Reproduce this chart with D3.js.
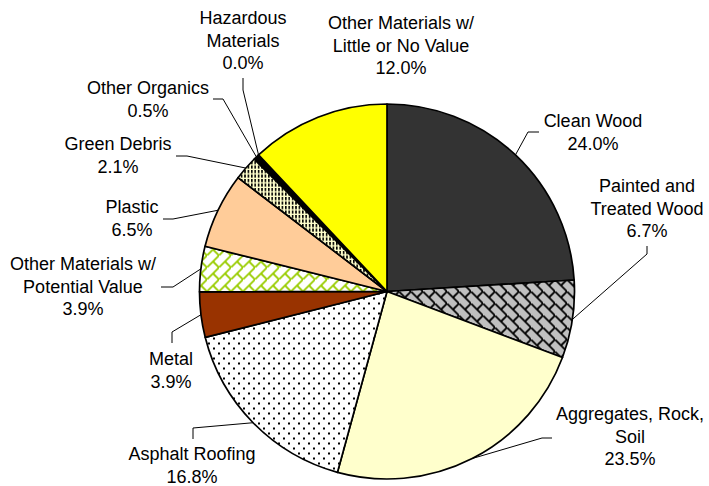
<!DOCTYPE html>
<html>
<head>
<meta charset="utf-8">
<script src="https://cdn.jsdelivr.net/npm/d3@7"></script>
<style>
  body { margin: 0; background: #fff; }
</style>
</head>
<body>
<script>
// slices, clockwise from 12 o'clock
const categories = ["Clean Wood", "Painted and|Treated Wood", "Aggregates, Rock,|Soil", "Asphalt Roofing",
    "Metal", "Other Materials w/|Potential Value", "Plastic", "Green Debris", "Other Organics",
    "Hazardous|Materials", "Other Materials w/|Little or No Value"];
const shares = [24.0, 6.7, 23.5, 16.8, 3.9, 3.9, 6.5, 2.1, 0.5, 0.0, 12.0];
const fills = ["#333333", "url(#brickGrey)", "#ffffcc", "url(#dots)", "#993300", "url(#brickGreen)",
    "#ffcc99", "url(#vdash)", "#000000", "#ffffff", "#ffff00"];

// label placement: text centre x, first baseline y
const labelAt = [[593, 127], [647, 192], [630, 420], [192, 460], [171, 365], [83, 270],
    [132, 213], [118, 150], [148, 94], [243, 24], [401, 29]];
// leader elbow and end (null = no leader)
const leaderTo = [[[528, 132], [539, 132]], [[647, 254], [647, 246]], [[542, 438], [552, 438]],
    [[193, 428], [193, 439]], [[172, 332], [172, 343]], [[173, 287], [161, 287]],
    [[173, 219], [163, 219]], [[187, 156], [176, 156]], [[223, 99], [213, 99]],
    [[243, 90], [243, 78]], null];

function main(){
    const canvasWidth = 709;
    const canvasHeight = 486;
    const radius = 187.5;
    const cx = 387, cy = 291.5;

    const svg = d3.select("body").append("svg")
        .attr("width", canvasWidth)
        .attr("height", canvasHeight);

    const defs = svg.append("defs");

    // diagonal brick, grey with black
    const pg = defs.append("pattern").attr("id", "brickGrey")
        .attr("patternUnits", "userSpaceOnUse").attr("width", 12).attr("height", 12);
    pg.append("rect").attr("width", 12).attr("height", 12).attr("fill", "#c0c0c0");
    pg.append("path").attr("d", "M-1,-1L13,13M6,6L12,0").attr("stroke", "#000").attr("stroke-width", 1.8);

    // diagonal brick, white with green
    const pgr = defs.append("pattern").attr("id", "brickGreen")
        .attr("patternUnits", "userSpaceOnUse").attr("width", 12).attr("height", 12);
    pgr.append("rect").attr("width", 12).attr("height", 12).attr("fill", "#ffffff");
    pgr.append("path").attr("d", "M-1,13L13,-1M6,6L12,12").attr("stroke", "#99cc00").attr("stroke-width", 1.8);

    // dots on white
    const pd = defs.append("pattern").attr("id", "dots")
        .attr("patternUnits", "userSpaceOnUse").attr("width", 10).attr("height", 10);
    pd.append("rect").attr("width", 10).attr("height", 10).attr("fill", "#ffffff");
    pd.append("rect").attr("x", 1).attr("y", 1).attr("width", 2).attr("height", 2).attr("fill", "#000");
    pd.append("rect").attr("x", 6).attr("y", 6).attr("width", 2).attr("height", 2).attr("fill", "#000");

    // short vertical dashes on pale yellow
    const pv = defs.append("pattern").attr("id", "vdash")
        .attr("patternUnits", "userSpaceOnUse").attr("width", 3.4).attr("height", 4.5);
    pv.append("rect").attr("width", 3.4).attr("height", 4.5).attr("fill", "#ffffcc");
    pv.append("rect").attr("x", 0).attr("y", 0).attr("width", 1.6).attr("height", 3.2).attr("fill", "#000");

    const data = categories.map((c, i) => ({name: c, value: shares[i], i: i}));

    const pie = d3.pie().sort(null).value(d => d.value);
    const arc = d3.arc().innerRadius(0).outerRadius(radius);

    const container_g = svg.append("g")
        .attr("transform", "translate(" + cx + "," + cy + ")");

    const arcs = pie(data);

    container_g.selectAll("path.slice")
        .data(arcs)
        .enter()
        .append("path")
        .attr("class", "slice")
        .attr("d", arc)
        .attr("fill", d => fills[d.data.i])
        .attr("stroke", "#000")
        .attr("stroke-width", 1.7)
        .attr("stroke-linejoin", "round");

    // leader lines from the middle of each slice's rim
    const leaders = svg.append("g");
    arcs.forEach(d => {
        const lt = leaderTo[d.data.i];
        if (!lt) return;
        const a = (d.startAngle + d.endAngle) / 2;
        const p0 = [cx + radius * Math.sin(a), cy - radius * Math.cos(a)];
        leaders.append("path")
            .attr("d", d3.line()([p0, lt[0], lt[1]]))
            .attr("fill", "none")
            .attr("stroke", "#000")
            .attr("stroke-width", 1);
    });

    const labels = svg.append("g")
        .attr("font-family", "'Liberation Sans', Arial, sans-serif")
        .attr("font-size", "18px")
        .attr("fill", "#000")
        .attr("text-anchor", "middle");

    data.forEach(d => {
        const lines = d.name.split("|").concat([d.value.toFixed(1) + "%"]);
        const t = labels.append("text")
            .attr("x", labelAt[d.i][0])
            .attr("y", labelAt[d.i][1]);
        lines.forEach((ln, k) => {
            t.append("tspan")
                .attr("x", labelAt[d.i][0])
                .attr("dy", k === 0 ? 0 : 22.7)
                .text(ln);
        });
    });
}
main();
</script>
</body>
</html>
